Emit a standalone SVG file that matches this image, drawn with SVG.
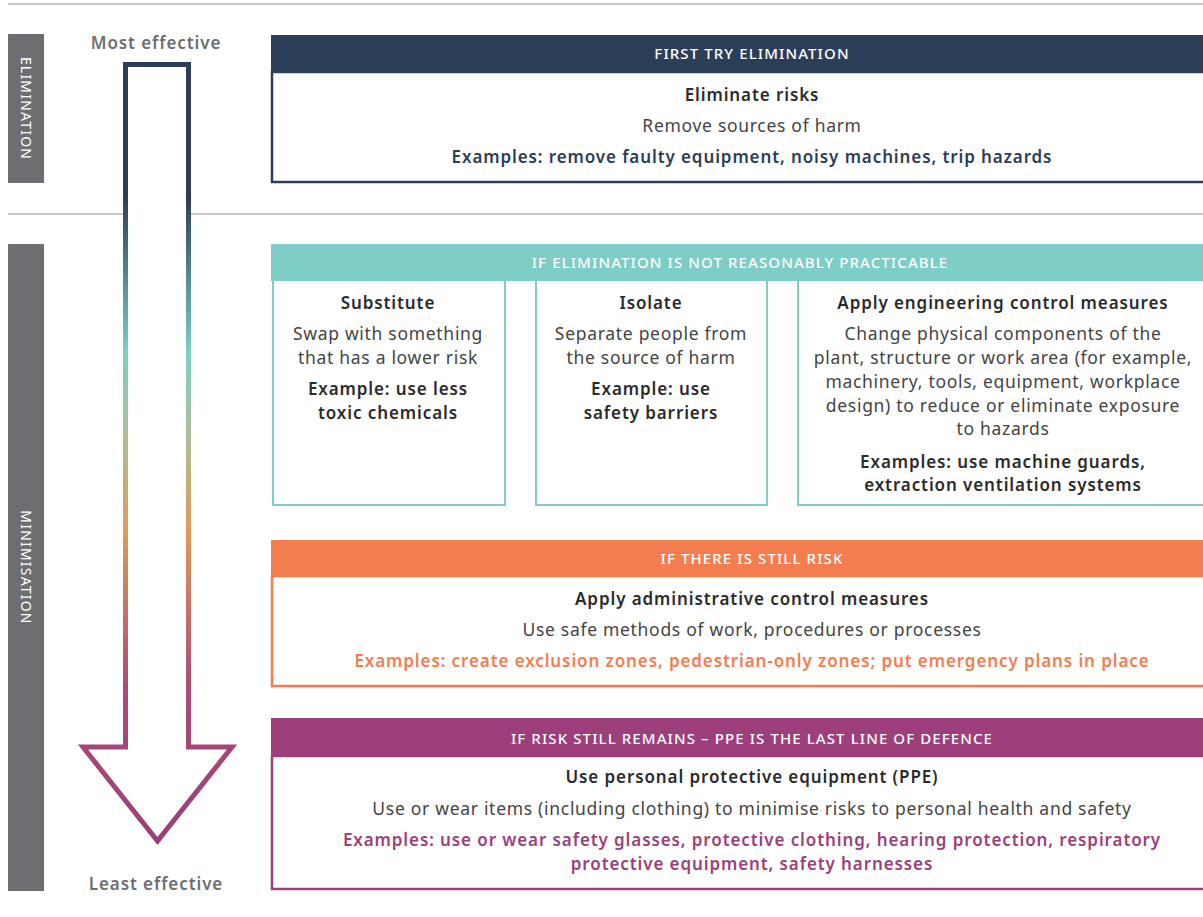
<svg xmlns="http://www.w3.org/2000/svg" width="1203" height="917" viewBox="0 0 1203 917">
<defs>
<linearGradient id="arrowGrad" gradientUnits="userSpaceOnUse" x1="0" y1="62" x2="0" y2="845">
<stop offset="0" stop-color="#2c3e57"/>
<stop offset="0.17" stop-color="#2c3e57"/>
<stop offset="0.37" stop-color="#7ecdc6"/>
<stop offset="0.47" stop-color="#a9c29c"/>
<stop offset="0.6" stop-color="#e0995a"/>
<stop offset="0.8" stop-color="#a94c77"/>
<stop offset="1" stop-color="#9c3f7a"/>
</linearGradient>
</defs>
<style>
text{font-family:"Noto Sans","Liberation Sans",sans-serif;text-anchor:middle}
.side{fill:#6d6e71}
.sidet{fill:#fff;font-size:14px;letter-spacing:1.2px}
.eff{fill:#6d6e71;font-size:17px;font-weight:600;letter-spacing:0.9px}
.hd{fill:#fff;font-size:15px;font-weight:500;letter-spacing:1.1px}
.ttl{fill:#2b2b2b;font-size:17px;font-weight:600;letter-spacing:0.9px}
.txt{fill:#444;font-size:17.5px;letter-spacing:0.7px}
.ex{font-size:17px;font-weight:600;letter-spacing:0.9px}
.rule{stroke:#c8c8c8;stroke-width:2}
</style>
<rect width="1203" height="917" fill="#fff"/>
<line class="rule" x1="8" y1="4" x2="1203" y2="4"/>
<line class="rule" x1="8" y1="214" x2="1203" y2="214"/>

<g id="side-elimination">
<rect class="side" x="8" y="34" width="36" height="149"/>
<text class="sidet" transform="translate(21,108.5) rotate(90)">ELIMINATION</text>
</g>
<g id="side-minimisation">
<rect class="side" x="8" y="244" width="36" height="647"/>
<text class="sidet" transform="translate(21,567.5) rotate(90)">MINIMISATION</text>
</g>

<g id="arrow">
<text class="eff" x="156" y="49">Most effective</text>
<path d="M125.5,64.5 L188.5,64.5 L188.5,747 L232,747 L157.5,841 L83,747 L125.5,747 Z" fill="#fff" stroke="url(#arrowGrad)" stroke-width="5" stroke-linejoin="miter"/>
<text class="eff" x="156" y="890">Least effective</text>
</g>

<g id="elimination">
<rect x="272" y="72" width="962" height="110" fill="#fff" stroke="#2c3e57" stroke-width="2.5"/>
<rect x="271" y="35" width="964" height="37" fill="#2c3e57"/>
<text class="hd" x="752" y="59">FIRST TRY ELIMINATION</text>
<text class="ttl" x="752" y="101">Eliminate risks</text>
<text class="txt" x="752" y="132">Remove sources of harm</text>
<text class="ex" x="752" y="163" fill="#2c3e57">Examples: remove faulty equipment, noisy machines, trip hazards</text>
</g>

<g id="not-practicable">
<rect x="271" y="244" width="964" height="37" fill="#7ecdc6"/>
<text class="hd" x="740" y="268">IF ELIMINATION IS NOT REASONABLY PRACTICABLE</text>
</g>

<g id="substitute">
<rect x="273" y="280" width="232" height="225" fill="#fff" stroke="#7ecdc6" stroke-width="2"/>
<text class="ttl" x="388" y="309">Substitute</text>
<text class="txt" x="388" y="340">Swap with something</text>
<text class="txt" x="388" y="364">that has a lower risk</text>
<text class="ttl" x="388" y="395">Example: use less</text>
<text class="ttl" x="388" y="419">toxic chemicals</text>
</g>

<g id="isolate">
<rect x="536" y="280" width="231" height="225" fill="#fff" stroke="#7ecdc6" stroke-width="2"/>
<text class="ttl" x="651" y="309">Isolate</text>
<text class="txt" x="651" y="340">Separate people from</text>
<text class="txt" x="651" y="364">the source of harm</text>
<text class="ttl" x="651" y="395">Example: use</text>
<text class="ttl" x="651" y="419">safety barriers</text>
</g>

<g id="engineering">
<rect x="798" y="280" width="420" height="225" fill="#fff" stroke="#7ecdc6" stroke-width="2"/>
<text class="ttl" x="1003" y="309">Apply engineering control measures</text>
<text class="txt" x="1003" y="340">Change physical components of the</text>
<text class="txt" x="1003" y="364">plant, structure or work area (for example,</text>
<text class="txt" x="1003" y="388">machinery, tools, equipment, workplace</text>
<text class="txt" x="1003" y="412">design) to reduce or eliminate exposure</text>
<text class="txt" x="1003" y="435">to hazards</text>
<text class="ttl" x="1003" y="468">Examples: use machine guards,</text>
<text class="ttl" x="1003" y="491">extraction ventilation systems</text>
</g>

<g id="administrative">
<rect x="272" y="576" width="962" height="110" fill="#fff" stroke="#f47d4f" stroke-width="2.5"/>
<rect x="271" y="540" width="964" height="37" fill="#f47d4f"/>
<text class="hd" x="752" y="564">IF THERE IS STILL RISK</text>
<text class="ttl" x="752" y="605">Apply administrative control measures</text>
<text class="txt" x="752" y="636">Use safe methods of work, procedures or processes</text>
<text class="ex" x="752" y="667" fill="#f47d4f">Examples: create exclusion zones, pedestrian-only zones; put emergency plans in place</text>
</g>

<g id="ppe">
<rect x="272" y="756" width="962" height="133" fill="#fff" stroke="#9c3f7a" stroke-width="2.5"/>
<rect x="271" y="718" width="964" height="38" fill="#9c3f7a"/>
<text class="hd" x="752" y="744">IF RISK STILL REMAINS – PPE IS THE LAST LINE OF DEFENCE</text>
<text class="ttl" x="752" y="783">Use personal protective equipment (PPE)</text>
<text class="txt" x="752" y="815">Use or wear items (including clothing) to minimise risks to personal health and safety</text>
<text class="ex" x="752" y="846" fill="#9c3f7a">Examples: use or wear safety glasses, protective clothing, hearing protection, respiratory</text>
<text class="ex" x="752" y="870" fill="#9c3f7a">protective equipment, safety harnesses</text>
</g>
</svg>
